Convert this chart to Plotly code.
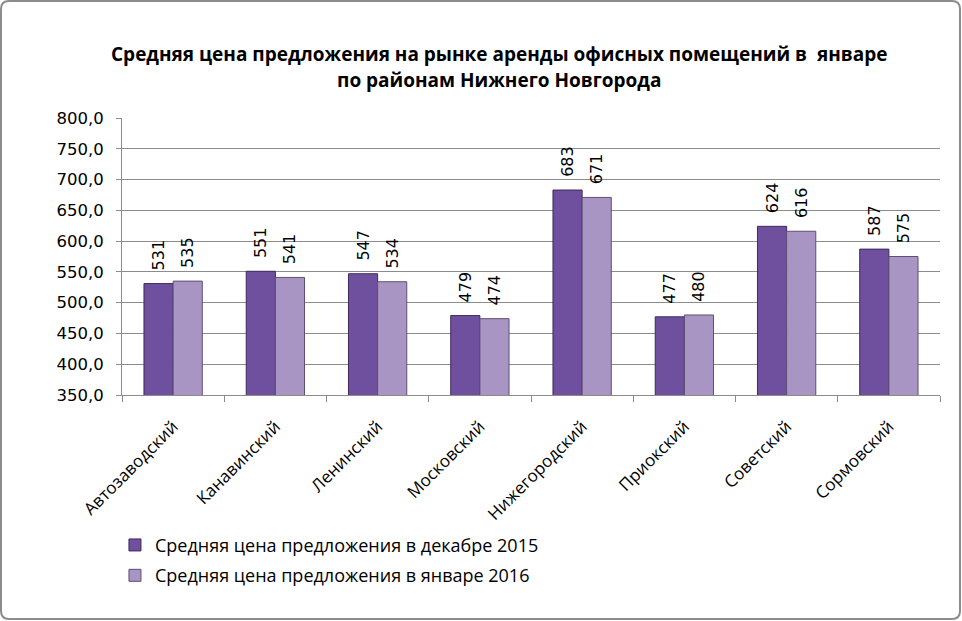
import plotly.graph_objects as go

categories = ["Автозаводский", "Канавинский", "Ленинский", "Московский",
              "Нижегородский", "Приокский", "Советский", "Сормовский"]
dec2015 = [531, 551, 547, 479, 683, 477, 624, 587]
jan2016 = [535, 541, 534, 474, 671, 480, 616, 575]
series_names = ["Средняя цена предложения в декабре 2015",
                "Средняя цена предложения в январе 2016"]
title_lines = ["Средняя цена предложения на рынке аренды офисных помещений в  январе",
               "по районам Нижнего Новгорода"]

W, H = 962, 621
L, R, T, B = 122, 22, 118, 226
PW, PH = W - L - R, H - T - B


def px_x(p):
    return (p - L) / PW


def px_y(p):
    return (H - B - p) / PH


fig = go.Figure()
for i, (name, vals, col, line) in enumerate([
        (series_names[0], dec2015, "#6E509E", "#3E2A5E"),
        (series_names[1], jan2016, "#A995C4", "#5E4F74")]):
    fig.add_trace(go.Bar(
        x=categories, y=vals, name=name, legendgroup="g%d" % i,
        marker=dict(color=col, line=dict(color=line, width=1)),
        text=["\u00a0\u00a0" + str(v) for v in vals], textposition="outside", textangle=-90,
        constraintext="none",
        textfont=dict(family="DejaVu Sans", size=16, color="black"),
        cliponaxis=False,
    ))

fig.update_layout(
    width=W, height=H,
    margin=dict(l=L, r=R, t=T, b=B, autoexpand=False),
    paper_bgcolor="white", plot_bgcolor="white",
    separators=", ",
    barmode="group", bargap=0.43, bargroupgap=0,
    showlegend=True,
    legend=dict(x=-0.0086, y=-0.4756, xanchor="left", yanchor="top",
                orientation="v", font=dict(family="Open Sans", size=18, color="black"),
                itemwidth=30, tracegroupgap=4),
    font=dict(family="DejaVu Sans"),
)
for k, (txt, yc) in enumerate(zip(title_lines, [54, 80])):
    fig.add_annotation(text="<b>" + txt + "</b>", xref="paper", yref="paper",
                       x=px_x(499), y=px_y(yc), xanchor="center", yanchor="middle",
                       showarrow=False,
                       font=dict(family="Open Sans", size=19, color="black"))

fig.update_yaxes(range=[350, 800], dtick=50, tickformat=".1f", automargin=False,
                 showgrid=True, gridcolor="#8C8C8C", gridwidth=1,
                 showline=True, linecolor="#8C8C8C", ticks="outside",
                 ticklen=5, tickcolor="#8C8C8C", ticklabelstandoff=9,
                 tickfont=dict(family="DejaVu Sans", size=16.5, color="black"))
fig.update_xaxes(showline=True, linecolor="#8C8C8C", ticks="outside", automargin=False,
                 tickson="boundaries", ticklen=6, tickcolor="#8C8C8C",
                 tickangle=-45, ticklabelstandoff=14,
                 tickfont=dict(family="Open Sans", size=17, color="black"))

# outer rounded border of the chart area
x0, x1, y0, y1, r = 1, 960, 1, 619, 8
path = (f"M {px_x(x0 + r)} {px_y(y0)} L {px_x(x1 - r)} {px_y(y0)} "
        f"Q {px_x(x1)} {px_y(y0)} {px_x(x1)} {px_y(y0 + r)} "
        f"L {px_x(x1)} {px_y(y1 - r)} Q {px_x(x1)} {px_y(y1)} {px_x(x1 - r)} {px_y(y1)} "
        f"L {px_x(x0 + r)} {px_y(y1)} Q {px_x(x0)} {px_y(y1)} {px_x(x0)} {px_y(y1 - r)} "
        f"L {px_x(x0)} {px_y(y0 + r)} Q {px_x(x0)} {px_y(y0)} {px_x(x0 + r)} {px_y(y0)} Z")
fig.add_shape(type="path", xref="paper", yref="paper", path=path,
              line=dict(color="#8C8C8C", width=2), fillcolor="rgba(0,0,0,0)")

fig.write_html("out.html", config={"displayModeBar": False},
               post_script="document.body.style.margin='0';document.body.style.overflow='hidden';")
